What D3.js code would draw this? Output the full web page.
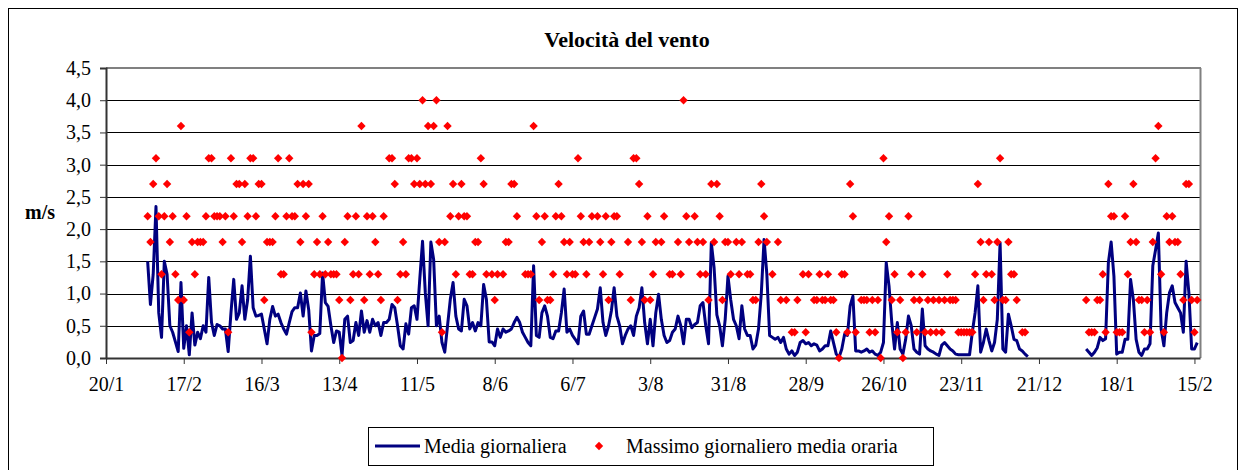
<!DOCTYPE html>
<html><head><meta charset="utf-8">
<script src="https://cdn.jsdelivr.net/npm/d3@7"></script>
<style>body{margin:0;background:#fff} svg{display:block}</style>
</head><body><svg id="c" width="1245" height="470"></svg>
<script>
// ---- data ----
const startDate = "2008-02-04";
const domainDates = ["2008-01-20", "2009-02-17"];
const xTickDates = ["2008-01-20","2008-02-17","2008-03-16","2008-04-13","2008-05-11","2008-06-08","2008-07-06","2008-08-03","2008-08-31","2008-09-28","2008-10-26","2008-11-23","2008-12-21","2009-01-18","2009-02-15"];
const yTicks = [0, 0.5, 1, 1.5, 2, 2.5, 3, 3.5, 4, 4.5];
const seriesNames = ["Media giornaliera", "Massimo giornaliero media oraria"];
const titleText = "Velocità del vento";
const yLabel = "m/s";

const mediaGiornaliera = [
1.5,0.83,1.3,2.35,0.7,0.32,1.5,1.3,0.5,0.4,
0.25,0.1,1.17,0.15,0.5,0.05,0.7,0.2,0.4,0.3,
0.5,0.4,1.25,0.55,0.35,0.52,0.5,0.45,0.45,0.1,
0.7,1.22,0.6,0.7,1.12,0.6,0.9,1.58,0.78,0.65,
0.66,0.68,0.45,0.22,0.6,0.8,0.65,0.68,0.55,0.45,
0.37,0.55,0.72,0.78,0.78,1.01,0.65,1.04,0.75,0.11,
0.35,0.35,0.38,1.32,0.86,0.8,0.5,0.24,0.42,0.4,
0.04,0.6,0.65,0.24,0.27,0.55,0.35,0.73,0.4,0.58,
0.4,0.6,0.5,0.55,0.35,0.55,0.55,0.6,0.83,0.78,
0.5,0.19,0.14,0.53,0.37,0.78,0.81,0.6,1.22,1.81,
1.01,0.5,1.8,1.53,0.5,0.65,0.24,0.09,0.5,0.91,
1.17,0.65,0.45,0.42,0.91,0.81,0.45,0.55,0.42,0.55,
0.5,1.14,0.91,0.25,0.25,0.19,0.45,0.32,0.45,0.4,
0.42,0.45,0.55,0.63,0.55,0.4,0.32,0.24,0.19,1.43,
0.35,0.32,0.7,0.81,0.65,0.32,0.3,0.42,0.42,0.7,
1.07,0.4,0.45,0.35,0.29,0.22,0.65,0.73,0.37,0.37,
0.5,0.63,0.76,1.09,0.55,0.35,0.5,0.73,1.09,0.65,
0.5,0.22,0.35,0.45,0.5,0.35,0.65,0.78,1.09,0.55,
0.22,0.6,0.19,0.7,0.99,0.6,0.35,0.24,0.27,0.4,
0.45,0.65,0.5,0.22,0.6,0.6,0.47,0.52,0.55,0.81,
0.86,0.5,0.22,1.79,1.4,0.67,0.5,0.19,0.6,1.27,
0.9,0.6,0.5,0.3,0.81,0.45,0.35,0.35,0.14,0.2,
0.45,1.0,1.84,1.3,0.35,0.32,0.29,0.32,0.24,0.32,
0.14,0.06,0.11,0.04,0.09,0.24,0.27,0.22,0.24,0.19,
0.22,0.2,0.11,0.14,0.19,0.19,0.42,0.24,0.06,0.01,
0.14,0.37,0.35,0.81,0.96,0.11,0.11,0.09,0.11,0.14,
0.09,0.11,0.06,0.04,0.09,0.24,1.48,1.12,0.55,0.14,
0.55,0.14,0.06,0.29,0.65,0.5,0.14,0.09,0.06,0.76,
0.19,0.14,0.11,0.09,0.06,0.04,0.2,0.24,0.19,0.14,
0.11,0.06,0.05,0.05,0.05,0.05,0.05,0.4,0.7,1.12,
0.09,0.24,0.45,0.27,0.11,0.24,0.6,1.79,0.14,0.09,
0.68,0.5,0.29,0.27,0.14,0.11,0.06,0.02,null,null,
null,null,null,null,null,null,null,null,null,null,
null,null,null,null,null,null,null,null,0.14,0.09,
0.04,0.09,0.16,0.32,0.27,0.3,1.48,1.8,1.27,0.06,
0.09,0.09,0.29,0.29,1.22,0.91,0.29,0.09,0.04,0.14,
0.14,0.22,1.43,1.68,1.94,0.45,0.19,0.7,1.01,1.12,
0.86,0.78,0.7,0.4,1.5,1.01,0.14,0.14,0.24
];

const massimoOrario = [
2.2,1.8,2.7,3.1,2.2,1.3,2.2,2.7,1.8,2.2,
1.3,0.9,3.6,0.9,2.2,0.4,1.8,1.3,1.8,1.8,
1.8,2.2,3.1,3.1,2.2,2.2,2.2,1.8,2.2,0.4,
3.1,2.2,2.7,2.7,1.8,2.7,2.2,3.1,3.1,2.2,
2.7,2.7,0.9,1.8,1.8,1.8,2.2,3.1,1.3,1.3,
2.2,3.1,2.2,2.2,2.7,1.8,2.7,2.2,2.7,0.4,
1.3,1.8,1.3,2.2,1.3,1.8,1.3,1.3,1.3,0.9,
0,1.8,2.2,0.9,1.3,2.2,1.3,3.6,0.9,2.2,
1.3,2.2,1.8,1.3,0.9,2.2,null,3.1,3.1,2.7,
0.9,1.3,1.8,1.3,3.1,3.1,2.7,3.1,2.7,4.0,
2.7,3.6,2.7,3.6,4.0,1.8,0.4,1.8,3.6,2.2,
2.7,1.3,2.2,2.7,2.2,2.2,1.3,1.3,1.8,1.8,
3.1,2.7,1.3,null,1.3,0.9,1.3,null,1.3,1.8,
1.8,2.7,2.7,2.2,null,null,1.3,1.3,1.3,3.6,
2.2,0.9,1.8,2.2,0.9,0.9,1.3,2.2,2.7,2.2,
1.8,1.3,1.8,1.3,1.3,3.1,2.2,1.8,1.3,1.8,
2.2,null,2.2,1.8,1.3,2.2,0.9,1.8,2.2,2.2,
1.3,null,null,1.8,0.9,3.1,3.1,2.7,1.8,0.9,
2.2,0.9,1.3,1.8,null,1.8,2.2,null,1.3,1.3,
null,1.8,1.3,4.0,2.2,1.8,null,2.2,1.8,1.3,
1.8,1.3,0.9,2.7,1.8,2.7,2.2,0.9,1.8,1.8,
1.3,null,1.8,1.3,1.8,null,1.3,1.3,0.9,0.9,
1.8,2.7,2.2,1.8,null,1.3,null,1.8,0.9,null,
0.9,null,0.4,0.4,0.9,null,1.3,0.4,1.3,null,
0.9,0.9,1.3,0.9,0.9,1.3,0.9,0.9,0.4,0,
1.3,1.3,0.4,2.7,2.2,0.4,null,0.9,0.9,0.9,
0.4,0.9,0.4,0.9,0,3.1,1.8,2.2,0.9,1.3,
0.4,0.9,0,0.4,2.2,1.3,0.9,0.4,0.9,1.3,
0.4,0.9,0.4,0.9,0.4,0.9,0.4,0.9,1.3,0.9,
0.9,0.9,0.4,0.4,0.4,0.4,0.4,0.4,1.3,2.7,
1.8,0.9,1.3,1.8,1.3,0.9,1.8,3.1,0.9,0.9,
1.8,1.3,1.3,0.9,null,0.4,0.4,null,null,null,
null,null,null,null,null,null,null,null,null,null,
null,null,null,null,null,null,null,null,0.9,0.4,
0.4,0.4,0.9,0.9,1.3,0.4,2.7,2.2,2.2,0.4,
0.4,0.4,2.2,1.3,1.8,2.7,1.8,0.9,0.9,0.4,
0.9,0.4,1.8,3.1,3.6,1.3,0.4,2.2,1.8,2.2,
1.8,1.8,1.3,0.9,2.7,2.7,0.9,0.4,0.9
];

// ---- chart ----
const parse = d3.timeParse("%Y-%m-%d");
const start = parse(startDate);
const dates = mediaGiornaliera.map((_, i) => d3.timeDay.offset(start, i));

const L = 106, R = 1200, T = 68, B = 358;
const x = d3.scaleTime().domain(domainDates.map(parse)).range([L, R]);
const y = d3.scaleLinear().domain([0, 4.5]).range([B, T]);

const svg = d3.select("#c");
const serif = "'Liberation Serif','Times New Roman',serif";
const FS = 20;

svg.append("rect").attr("x", 0).attr("y", 0).attr("width", 1245).attr("height", 470).attr("fill", "#fff");
svg.append("rect").attr("x", 8.5).attr("y", 8.5).attr("width", 1229).attr("height", 470)
  .attr("fill", "none").attr("stroke", "#000").attr("stroke-width", 1);

// title
svg.append("text").attr("x", 627).attr("y", 47).attr("text-anchor", "middle")
  .attr("font-family", serif).attr("font-weight", "bold").attr("font-size", 22).text(titleText);

// y label
svg.append("text").attr("x", 40).attr("y", 219).attr("text-anchor", "middle")
  .attr("font-family", serif).attr("font-weight", "bold").attr("font-size", FS).text(yLabel);

// gridlines
const fmt = v => d3.format(".1f")(v).replace(".", ",");
svg.append("g").selectAll("line").data(yTicks.filter(v => v > 0 && v < 4.5)).join("line")
  .attr("x1", L).attr("x2", R).attr("y1", d => Math.round(y(d)) + 0.5).attr("y2", d => Math.round(y(d)) + 0.5)
  .attr("stroke", "#000").attr("stroke-width", 1);
// top and right border
svg.append("line").attr("x1", L).attr("x2", R + 1).attr("y1", T).attr("y2", T).attr("stroke", "#808080").attr("stroke-width", 2);
svg.append("line").attr("x1", R + 0.5).attr("x2", R + 0.5).attr("y1", T).attr("y2", B).attr("stroke", "#808080").attr("stroke-width", 2);

// y axis
const yAxis = d3.axisLeft(y).tickValues(yTicks).tickFormat(fmt).tickSize(6).tickPadding(9);
const gy = svg.append("g").attr("transform", `translate(${L},0)`).call(yAxis);
gy.select(".domain").attr("stroke", "#333").attr("stroke-width", 2);
gy.selectAll(".tick line").attr("stroke", "#333");
gy.selectAll("text").attr("font-family", serif).attr("font-size", FS).attr("fill", "#000");

// x axis
const xAxis = d3.axisBottom(x).tickValues(xTickDates.map(parse)).tickFormat(d3.timeFormat("%-d/%-m")).tickSize(6).tickSizeOuter(0).tickPadding(13);
const gx = svg.append("g").attr("transform", `translate(0,${B})`).call(xAxis);
gx.select(".domain").attr("stroke", "#333").attr("stroke-width", 2);
gx.selectAll(".tick line").attr("stroke", "#333");
gx.selectAll("text").attr("font-family", serif).attr("font-size", FS).attr("fill", "#000");

// line series
const line = d3.line().defined(d => d[1] != null).x(d => x(d[0])).y(d => y(d[1]));
svg.append("path").datum(dates.map((dt, i) => [dt, mediaGiornaliera[i]]))
  .attr("d", line).attr("fill", "none").attr("stroke", "#000080").attr("stroke-width", 3).attr("stroke-linejoin", "round");

// diamonds
const dia = "M0,-4.2L4.2,0L0,4.2L-4.2,0Z";
svg.append("g").selectAll("path").data(dates.map((dt, i) => [dt, massimoOrario[i]]).filter(d => d[1] != null)).join("path")
  .attr("d", dia).attr("transform", d => `translate(${x(d[0])},${y(d[1])})`).attr("fill", "#ff0000");

// legend
const lg = svg.append("g");
lg.append("rect").attr("x", 368.5).attr("y", 427.5).attr("width", 565).attr("height", 38)
  .attr("fill", "#fff").attr("stroke", "#000").attr("stroke-width", 1);
lg.append("line").attr("x1", 375).attr("x2", 420).attr("y1", 446).attr("y2", 446).attr("stroke", "#000080").attr("stroke-width", 3);
lg.append("text").attr("x", 424).attr("y", 453).attr("font-family", serif).attr("font-size", FS).text(seriesNames[0]);
lg.append("path").attr("d", dia).attr("transform", "translate(599,446)").attr("fill", "#ff0000");
lg.append("text").attr("x", 626).attr("y", 453).attr("font-family", serif).attr("font-size", FS).text(seriesNames[1]);
</script></body></html>
